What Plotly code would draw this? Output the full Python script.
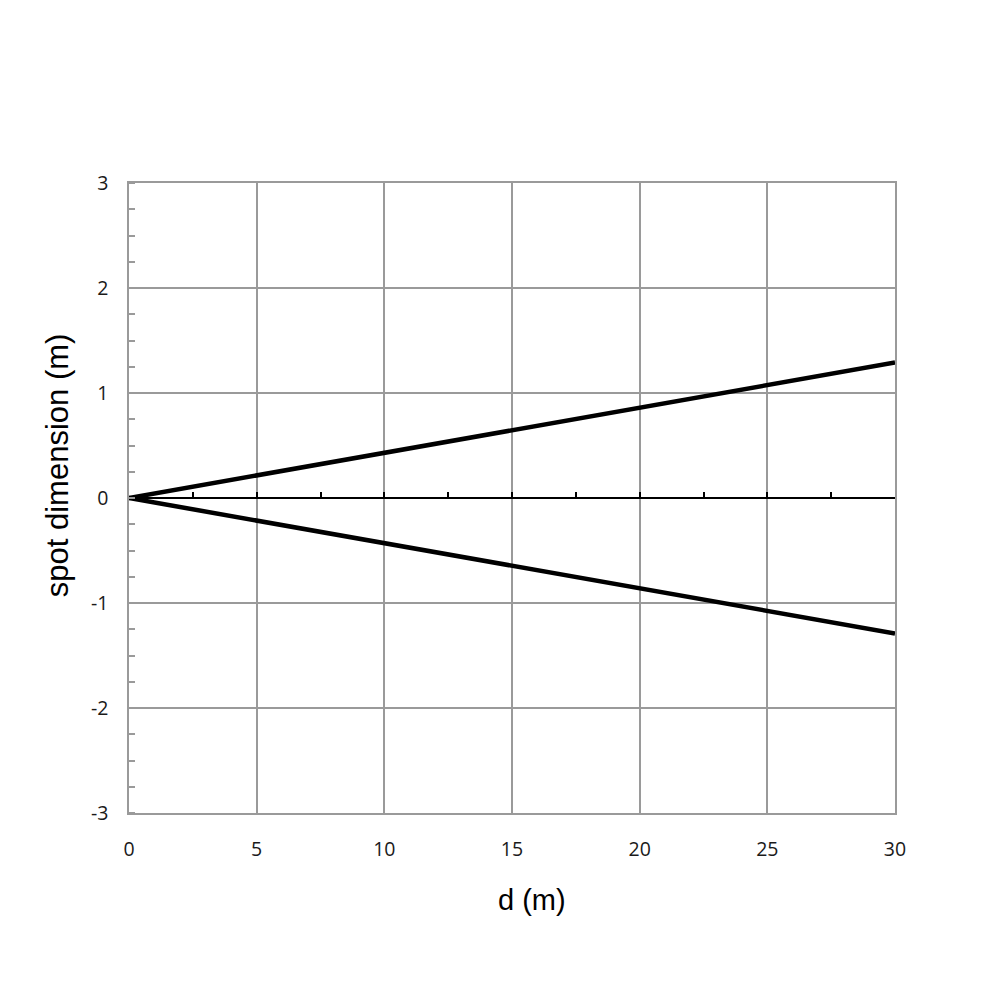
import plotly.graph_objects as go

# data
d = [0, 30]
upper = [0, 1.29]
lower = [0, -1.29]
x_ticks = [0, 5, 10, 15, 20, 25, 30]
y_ticks = [-3, -2, -1, 0, 1, 2, 3]
y_labels = ['-3', '-2', '-1', '0', '1', '2', '3']

grid = '#9a9a9a'
tickfont = dict(family='Open Sans', size=19.5, color='#1a1a1a')
titlefont = dict(family='Liberation Sans', color='black')

fig = go.Figure()
fig.add_trace(go.Scatter(x=d, y=upper, mode='lines',
                         line=dict(color='black', width=4.5), hoverinfo='none'))
fig.add_trace(go.Scatter(x=d, y=lower, mode='lines',
                         line=dict(color='black', width=4.5), hoverinfo='none'))
# dummy trace so the axis through y=0 gets drawn
fig.add_trace(go.Scatter(x=d, y=[0, 0], xaxis='x2', mode='lines',
                         line=dict(color='black', width=1.5), hoverinfo='none'))

fig.update_layout(
    width=1000, height=1000,
    showlegend=False,
    plot_bgcolor='white', paper_bgcolor='white',
    margin=dict(l=121, r=113, t=175, b=195),
    xaxis=dict(range=[0, 30], tickvals=x_ticks,
               showgrid=True, gridcolor=grid, gridwidth=1.5,
               showline=True, linecolor=grid, linewidth=1.5, mirror=True,
               zeroline=False, ticks='', tickfont=tickfont,
               ticklabelstandoff=18),
    xaxis2=dict(range=[0, 30], overlaying='x', anchor='free', position=0.5,
                side='bottom', showgrid=False, zeroline=False,
                showline=True, linecolor='black', linewidth=1.5,
                ticks='inside', dtick=2.5, tick0=0, ticklen=5, tickwidth=1.5,
                tickcolor='black', showticklabels=False),
    yaxis=dict(range=[-3, 3], tickvals=y_ticks, ticktext=y_labels,
               showgrid=True, gridcolor=grid, gridwidth=1.5,
               showline=True, linecolor=grid, linewidth=1.5, mirror=True,
               zeroline=False, ticks='', tickfont=tickfont,
               ticklabelstandoff=15,
               minor=dict(dtick=0.25, ticks='inside', ticklen=6, tickwidth=1.5,
                          tickcolor=grid, showgrid=False)),
    annotations=[
        dict(text='d (m)', xref='paper', yref='paper', x=0.526, y=-0.138,
             xanchor='center', yanchor='middle', showarrow=False,
             font=dict(titlefont, size=29)),
        dict(text='spot dimension (m)', xref='paper', yref='paper',
             x=-0.094, y=0.552, textangle=-90,
             xanchor='center', yanchor='middle', showarrow=False,
             font=dict(titlefont, size=31)),
    ],
)

fig.write_html('out.html')
